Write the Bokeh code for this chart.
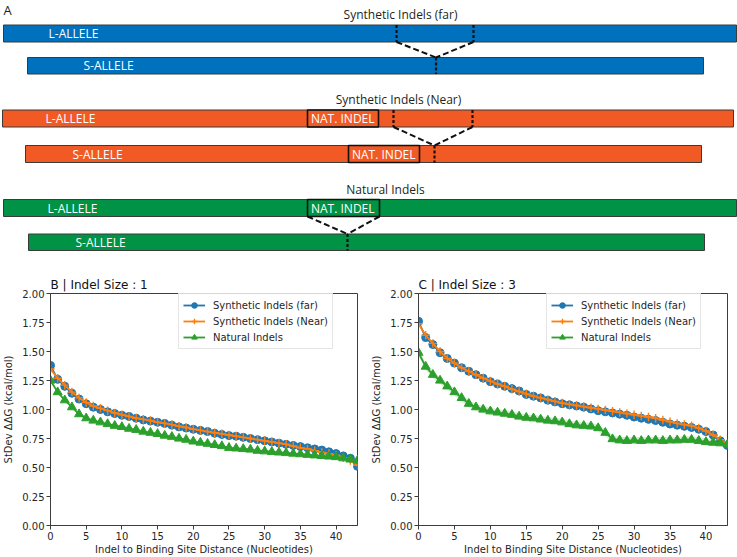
from bokeh.plotting import figure
from bokeh.layouts import column, row
from bokeh.models import Range1d, Legend, LegendItem, FixedTicker, NumeralTickFormatter
from bokeh.core.properties import value
from bokeh.embed import file_html
from bokeh.resources import INLINE

# ---------------------------------------------------------------- data
distance = list(range(44))

b_far = [1.38, 1.26, 1.20, 1.14, 1.09, 1.05, 1.02, 1.00, 0.98, 0.965,
         0.95, 0.94, 0.925, 0.91, 0.90, 0.89, 0.88, 0.865, 0.85, 0.84,
         0.83, 0.82, 0.81, 0.795, 0.785, 0.775, 0.77, 0.76, 0.75, 0.74,
         0.73, 0.72, 0.71, 0.70, 0.69, 0.68, 0.67, 0.66, 0.65, 0.635,
         0.62, 0.60, 0.58, 0.51]
b_near = [1.35, 1.27, 1.21, 1.15, 1.10, 1.06, 1.03, 1.01, 0.99, 0.97,
          0.955, 0.94, 0.925, 0.915, 0.905, 0.89, 0.88, 0.87, 0.855, 0.845,
          0.83, 0.82, 0.81, 0.80, 0.79, 0.78, 0.77, 0.76, 0.75, 0.74,
          0.73, 0.72, 0.71, 0.70, 0.685, 0.67, 0.66, 0.645, 0.63, 0.62,
          0.605, 0.585, 0.56, 0.52]
b_nat = [1.25, 1.15, 1.08, 1.02, 0.96, 0.925, 0.905, 0.89, 0.875, 0.86,
         0.85, 0.835, 0.825, 0.81, 0.80, 0.79, 0.775, 0.765, 0.75, 0.74,
         0.725, 0.715, 0.705, 0.695, 0.685, 0.67, 0.665, 0.66, 0.655, 0.645,
         0.64, 0.635, 0.63, 0.625, 0.62, 0.615, 0.61, 0.605, 0.60, 0.595,
         0.59, 0.58, 0.57, 0.56]

c_far = [1.76, 1.62, 1.56, 1.49, 1.44, 1.40, 1.36, 1.33, 1.30, 1.27,
         1.24, 1.22, 1.20, 1.18, 1.16, 1.13, 1.115, 1.10, 1.08, 1.065,
         1.05, 1.04, 1.03, 1.02, 1.005, 0.99, 0.98, 0.97, 0.96, 0.95,
         0.935, 0.925, 0.915, 0.905, 0.89, 0.875, 0.865, 0.855, 0.845, 0.83,
         0.81, 0.78, 0.73, 0.69]
c_near = [1.74, 1.64, 1.57, 1.50, 1.44, 1.40, 1.36, 1.33, 1.30, 1.27,
          1.245, 1.22, 1.20, 1.175, 1.155, 1.135, 1.115, 1.10, 1.085, 1.07,
          1.055, 1.045, 1.035, 1.025, 1.015, 1.005, 0.995, 0.985, 0.975, 0.965,
          0.955, 0.945, 0.935, 0.925, 0.91, 0.895, 0.88, 0.87, 0.86, 0.84,
          0.815, 0.78, 0.74, 0.70]
c_nat = [1.49, 1.37, 1.30, 1.25, 1.20, 1.15, 1.10, 1.05, 1.02, 1.00,
         0.985, 0.975, 0.965, 0.955, 0.94, 0.93, 0.925, 0.915, 0.905, 0.90,
         0.89, 0.875, 0.865, 0.86, 0.855, 0.84, 0.80, 0.745, 0.735, 0.73,
         0.735, 0.73, 0.735, 0.735, 0.73, 0.735, 0.735, 0.74, 0.74, 0.73,
         0.72, 0.715, 0.71, 0.70]

# half-width of the shaded band around each curve (far, near, natural)
b_spread = [0.010, 0.010, 0.012]
c_spread = [0.012, 0.015, 0.030]

series_names = ["Synthetic Indels (far)", "Synthetic Indels (Near)", "Natural Indels"]
series_colors = ["#1f77b4", "#ff7f0e", "#2ca02c"]
series_markers = ["circle", "cross", "triangle"]

y_ticks = [0, 0.25, 0.5, 0.75, 1.0, 1.25, 1.5, 1.75, 2.0]
x_ticks = [0, 5, 10, 15, 20, 25, 30, 35, 40]

MPL_FONT = "DejaVu Sans"
TEXT_COL = "#262626"
AXIS_COL = "#3d3d3d"


def panel(title, curves, spreads, width, border_left, border_right):
    p = figure(width=width, height=295,
               min_border_left=border_left, min_border_right=border_right,
               min_border_top=31, min_border_bottom=32,
               x_range=Range1d(0, 43), y_range=Range1d(0, 2),
               title=title, output_backend="svg", toolbar_location=None)
    p.title.text_font = MPL_FONT
    p.title.text_font_size = "12px"
    p.title.text_font_style = "normal"
    p.title.text_color = "#111111"
    p.title.align = "left"
    p.title.standoff = 3
    p.title.offset = 0

    p.xgrid.visible = False
    p.ygrid.visible = False
    p.outline_line_color = AXIS_COL
    p.outline_line_width = 1
    p.background_fill_color = "white"
    p.border_fill_color = "white"

    for ax in (p.xaxis[0], p.yaxis[0]):
        ax.axis_line_color = AXIS_COL
        ax.major_tick_line_color = AXIS_COL
        ax.major_tick_in = 0
        ax.major_tick_out = 4
        ax.minor_tick_line_color = None
        ax.major_label_text_font = MPL_FONT
        ax.major_label_text_font_size = "10px"
        ax.major_label_text_color = TEXT_COL
        ax.axis_label_text_font = MPL_FONT
        ax.axis_label_text_font_size = "10px"
        ax.axis_label_text_font_style = "normal"
        ax.axis_label_text_color = TEXT_COL

    p.xaxis.ticker = FixedTicker(ticks=x_ticks)
    p.yaxis.ticker = FixedTicker(ticks=y_ticks)
    p.yaxis.formatter = NumeralTickFormatter(format="0.00")
    p.xaxis.axis_label = "Indel to Binding Site Distance (Nucleotides)"
    p.yaxis.axis_label = "StDev ΔΔG (kcal/mol)"
    p.xaxis.major_label_standoff = 2
    p.xaxis.axis_label_standoff = 1
    p.yaxis.major_label_standoff = 2
    p.yaxis.axis_label_standoff = 5

    items = []
    for vals, spread, name, col, mk in zip(curves, spreads, series_names,
                                           series_colors, series_markers):
        lo = [v - spread for v in vals]
        hi = [v + spread for v in vals]
        p.varea(x=distance, y1=lo, y2=hi, fill_color=col, fill_alpha=0.2)
        ln = p.line(distance, vals, line_color=col, line_width=1.8)
        if mk == "cross":
            sc = p.scatter(distance, vals, marker=mk, size=8.5,
                           line_color=col, line_width=1.4)
        elif mk == "triangle":
            sc = p.scatter(distance, vals, marker=mk, size=9,
                           fill_color=col, line_color=col)
        else:
            sc = p.scatter(distance, vals, marker=mk, size=8,
                           fill_color=col, line_color=col)
        items.append(LegendItem(label=name, renderers=[ln, sc]))

    leg = Legend(items=items, location=(128, 176))
    leg.margin = 0
    leg.padding = 4
    leg.spacing = 2
    leg.glyph_width = 22
    leg.glyph_height = 14
    leg.label_height = 14
    leg.label_standoff = 8
    leg.label_text_font = MPL_FONT
    leg.label_text_font_size = "10px"
    leg.label_text_color = TEXT_COL
    leg.border_line_color = "#cccccc"
    leg.border_line_width = 1
    leg.background_fill_color = "white"
    leg.background_fill_alpha = 0.85
    p.add_layout(leg)
    return p


# ---------------------------------------------------------------- schematic (panel A)
SANS = "Open Sans"
INK = "#231f20"

schema = figure(width=737, height=262, x_range=Range1d(0, 737), y_range=Range1d(262, 0),
                min_border=0, x_axis_type=None, y_axis_type=None,
                output_backend="svg", toolbar_location=None)
schema.outline_line_color = None
schema.xgrid.visible = False
schema.ygrid.visible = False
schema.background_fill_color = "white"
schema.border_fill_color = "white"

# one entry per scenario: colour, title, long bar, short bar, labels, indel boxes
scenarios = [
    dict(color="#0071bc", title="Synthetic Indels (far)", title_xy=(400, 14),
         long=(3, 736, 24.5, 41.5), short=(27, 703, 57, 73.5),
         long_lbl=48, short_lbl=83, boxes=[],
         cut=(396, 473), join=435.5),
    dict(color="#f15a24", title="Synthetic Indels (Near)", title_xy=(398, 99),
         long=(2, 733, 109.5, 126.5), short=(25, 701, 145, 162),
         long_lbl=45, short_lbl=72,
         boxes=[("long", 307, 378), ("short", 348, 419)],
         cut=(393, 472), join=434),
    dict(color="#009245", title="Natural Indels", title_xy=(385, 189),
         long=(3, 736, 199, 216), short=(28, 704, 233.5, 250),
         long_lbl=47, short_lbl=75,
         boxes=[("long", 307, 379)],
         cut=(307, 379), join=347, cut_from_box=True),
]

schema.text(x=[3], y=[9], text=["A"], text_font=value(SANS), text_font_size="13px",
            text_color=INK, text_baseline="middle", text_align="left")

for sc in scenarios:
    lx0, lx1, ly0, ly1 = sc["long"]
    sx0, sx1, sy0, sy1 = sc["short"]
    schema.quad(left=[lx0, sx0], right=[lx1, sx1], top=[ly0, sy0], bottom=[ly1, sy1],
                fill_color=sc["color"], line_color="#3a3a3a", line_width=1)
    schema.text(x=[sc["title_xy"][0]], y=[sc["title_xy"][1]], text=[sc["title"]],
                text_font=value(SANS), text_font_size="12px", text_color=INK,
                text_align="center", text_baseline="middle")
    schema.text(x=[sc["long_lbl"], sc["short_lbl"]],
                y=[(ly0 + ly1) / 2, (sy0 + sy1) / 2],
                text=["L-ALLELE", "S-ALLELE"], text_font=value(SANS),
                text_font_size="12px", text_color="white",
                text_align="left", text_baseline="middle")
    for which, bx0, bx1 in sc["boxes"]:
        y0, y1 = (ly0, ly1) if which == "long" else (sy0, sy1)
        schema.quad(left=[bx0], right=[bx1], top=[y0], bottom=[y1],
                    fill_color=None, line_color="#111111", line_width=1.6)
        schema.text(x=[bx0 + 3.5], y=[(y0 + y1) / 2], text=["NAT. INDEL"],
                    text_font=value(SANS), text_font_size="12px", text_color="white",
                    text_align="left", text_baseline="middle")
    c0, c1 = sc["cut"]
    if not sc.get("cut_from_box"):
        schema.segment(x0=[c0, c1], y0=[ly0, ly0], x1=[c0, c1], y1=[ly1, ly1],
                       line_color="#111111", line_width=2.2, line_dash="3 2")
    schema.segment(x0=[c0, c1], y0=[ly1, ly1], x1=[sc["join"], sc["join"]], y1=[sy0, sy0],
                   line_color="#111111", line_width=2, line_dash="6 3")
    schema.segment(x0=[sc["join"]], y0=[sy0], x1=[sc["join"]], y1=[sy1],
                   line_color="#111111", line_width=2.2, line_dash="3 2")

# ---------------------------------------------------------------- panels B and C
pb = panel("B | Indel Size : 1", [b_far, b_near, b_nat], b_spread, 368, 48, 11)
pc = panel("C | Indel Size : 3", [c_far, c_near, c_nat], c_spread, 369, 50, 10)

layout = column(schema, row(pb, pc, spacing=0), spacing=0)

open("out.html", "w").write(file_html(layout, INLINE))
